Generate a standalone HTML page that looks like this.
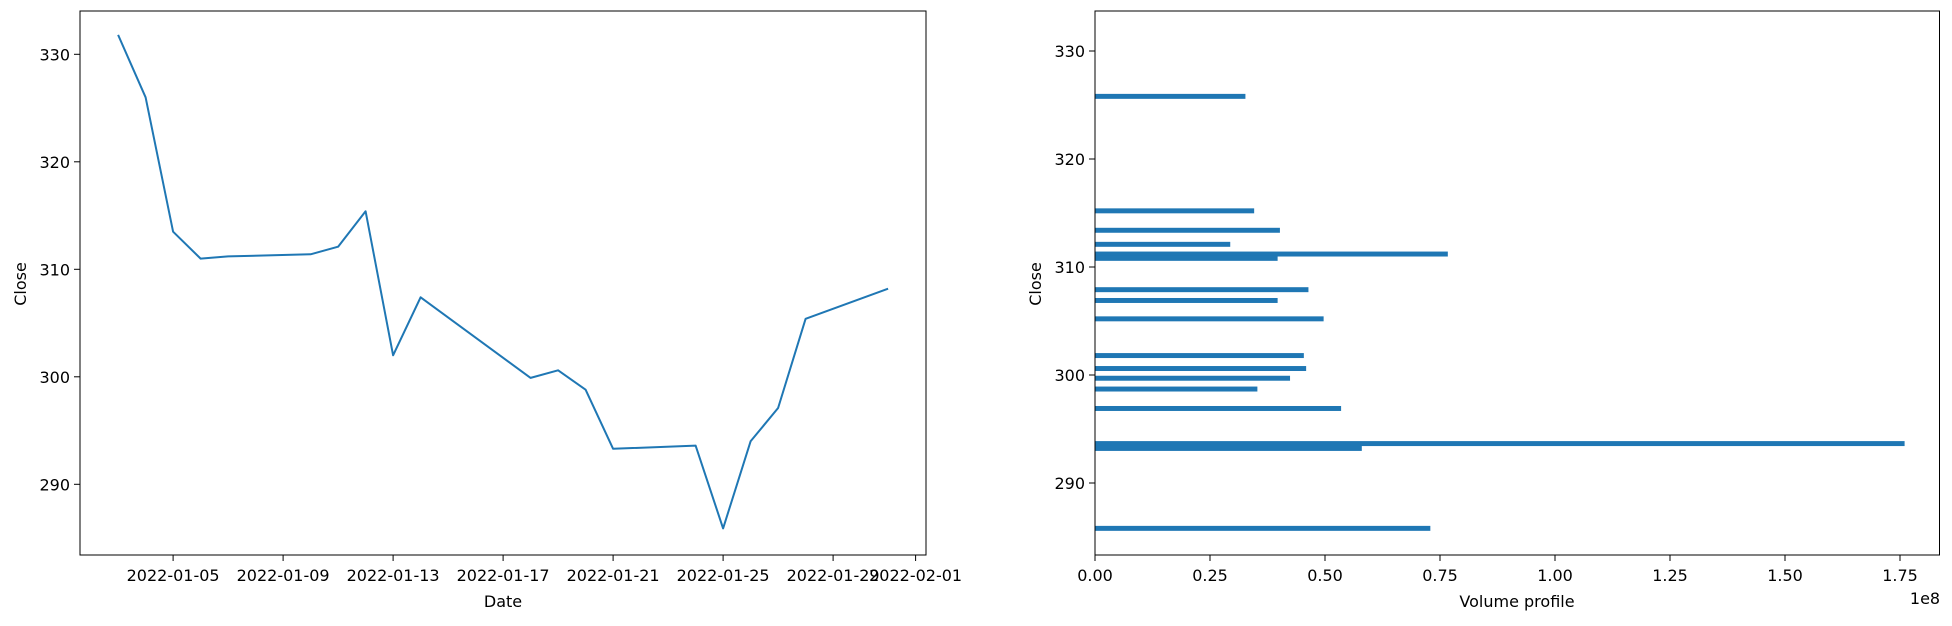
<!DOCTYPE html>
<html><head><meta charset="utf-8"><style>
body{margin:0;background:#fff}
svg text{font-family:"DejaVu Sans","Liberation Sans",sans-serif;font-size:16px;fill:#000}
</style></head><body>
<svg id="chart" width="1952" height="621" viewBox="0 0 1952 621" xmlns="http://www.w3.org/2000/svg">
<g id="left"></g>
<g id="right"></g>
</svg>
<script>
const dates = ["2022-01-03","2022-01-04","2022-01-05","2022-01-06","2022-01-07","2022-01-10","2022-01-11","2022-01-12","2022-01-13","2022-01-14","2022-01-18","2022-01-19","2022-01-20","2022-01-21","2022-01-24","2022-01-25","2022-01-26","2022-01-27","2022-01-28","2022-01-31"];
const closes = [331.8,326.0,313.5,311.0,311.2,311.4,312.1,315.4,302.0,307.4,299.9,300.6,298.8,293.3,293.6,285.9,294.0,297.1,305.4,308.2];
const xTickDates = ["2022-01-05","2022-01-09","2022-01-13","2022-01-17","2022-01-21","2022-01-25","2022-01-29","2022-02-01"];
const leftYTicks = [290,300,310,320,330];
const binPrices = [325.8,315.2,313.4,312.1,311.2,310.8,307.9,306.9,305.2,301.8,300.6,299.7,298.7,296.9,293.65,293.2,285.8];
const binVolumes = [0.327,0.346,0.402,0.294,0.767,0.397,0.464,0.397,0.497,0.454,0.459,0.424,0.353,0.535,1.76,0.58,0.729];
const rightXTicks = [0,0.25,0.5,0.75,1.0,1.25,1.5,1.75];
const rightYTicks = [290,300,310,320,330];

const NS="http://www.w3.org/2000/svg";
function mk(parent,tag,attrs,text){const e=document.createElementNS(NS,tag);for(const k in attrs)e.setAttribute(k,attrs[k]);if(text!==undefined)e.textContent=text;parent.appendChild(e);return e;}
const day=d=>Date.parse(d+"T00:00:00Z")/86400000;

// Left
const L={x0:80,x1:926,y0:11,y1:555};
const d0=day("2022-01-05");
const lx=d=>173.1+(day(d)-d0)*27.5;
const ly=v=>54.3+(330-v)*10.75;
const lg=document.getElementById('left');
let pts=dates.map((d,i)=>lx(d).toFixed(1)+","+ly(closes[i]).toFixed(1)).join(" ");
let pl=mk(lg,'polyline',{points:pts,fill:'none',stroke:'#1f77b4','stroke-width':2,'stroke-linejoin':'round'});


let fr=mk(lg,'rect',{x:L.x0,y:L.y0,width:L.x1-L.x0,height:L.y1-L.y0,fill:'none',stroke:'#000','stroke-width':1});


xTickDates.forEach(d=>{const x=lx(d);
 mk(lg,'line',{x1:x,x2:x,y1:L.y1,y2:L.y1+6,stroke:'#000'});
 const t=mk(lg,'text',{x:x,y:581,'text-anchor':'middle'},d);
 
 });
leftYTicks.forEach(v=>{const y=ly(v);
 mk(lg,'line',{x1:L.x0-6,x2:L.x0,y1:y,y2:y,stroke:'#000'});
 const t=mk(lg,'text',{x:L.x0-10,y:y+6,'text-anchor':'end'},v);
 
 });
let t1=mk(lg,'text',{x:503,y:607,'text-anchor':'middle'},'Date');


let t2=mk(lg,'text',{x:26,y:284,'text-anchor':'middle',transform:'rotate(-90 26 284)'},'Close');



// Right
const R={x0:1095,x1:1939.5,y0:11,y1:555};
const rx=v=>R.x0+v*460;
const ry=v=>159+(320-v)*10.8;
const rg=document.getElementById('right');
binPrices.forEach((p,i)=>{const y1=ry(p+0.23),y2=ry(p-0.23);
 const b=mk(rg,'rect',{x:rx(0),y:y1,width:rx(binVolumes[i])-rx(0),height:y2-y1,fill:'#1f77b4'});
 
 });
let fr2=mk(rg,'rect',{x:R.x0,y:R.y0,width:R.x1-R.x0,height:R.y1-R.y0,fill:'none',stroke:'#000','stroke-width':1});


rightXTicks.forEach(v=>{const x=rx(v);
 mk(rg,'line',{x1:x,x2:x,y1:R.y1,y2:R.y1+6,stroke:'#000'});
 const t=mk(rg,'text',{x:x,y:581,'text-anchor':'middle'},v.toFixed(2));
 
 });
rightYTicks.forEach(v=>{const y=ry(v);
 mk(rg,'line',{x1:R.x0-6,x2:R.x0,y1:y,y2:y,stroke:'#000'});
 const t=mk(rg,'text',{x:R.x0-10,y:y+6,'text-anchor':'end'},v);
 
 });
let t3=mk(rg,'text',{x:1517,y:607,'text-anchor':'middle'},'Volume profile');


let t4=mk(rg,'text',{x:1041,y:284,'text-anchor':'middle',transform:'rotate(-90 1041 284)'},'Close');


let t5=mk(rg,'text',{x:1925,y:604,'text-anchor':'middle'},'1e8');


</script>
</body></html>
